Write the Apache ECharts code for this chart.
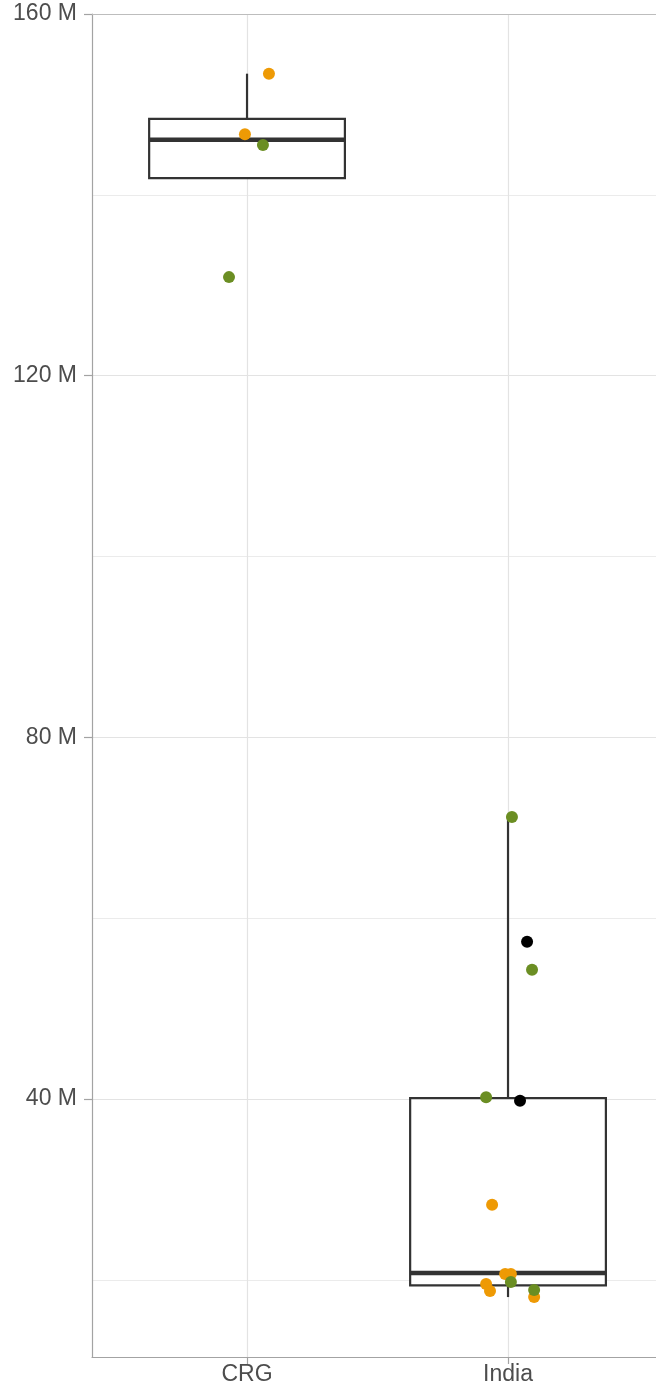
<!DOCTYPE html>
<html>
<head>
<meta charset="utf-8">
<script src="https://cdn.jsdelivr.net/npm/echarts@6/dist/echarts.min.js"></script>
<style>
html,body{margin:0;padding:0;background:#fff;}
#chart{width:656px;height:1394px;}
</style>
</head>
<body>
<div id="chart"></div>
<script>
// Categories and tick labels
var categories = ['CRG', 'India'];
var majorTicks = [40, 80, 120, 160];
var minorTicks = [20, 60, 100, 140];

// Box statistics (millions) per category: lower whisker, Q1, median, Q3, upper whisker
var boxLow    = [141.85, 18.1];
var boxQ1     = [141.85, 19.4];
var boxMedian = [146.1, 20.76];
var boxQ3     = [148.4, 40.1];
var boxHigh   = [153.4, 71.2];

// Jittered points (x = category position incl. jitter, y = millions)
var orangeX = [1.084, 0.992, 1.939, 1.989, 2.011, 1.916, 1.931, 2.100];
var orangeY = [153.4, 146.7, 28.3, 20.65, 20.65, 19.54, 18.77, 18.1];
var greenX  = [1.061, 0.931, 2.015, 2.092, 1.916, 2.011, 2.100];
var greenY  = [145.5, 130.9, 71.2, 54.3, 40.2, 19.76, 18.88];
var blackX  = [2.073, 2.046];
var blackY  = [57.4, 39.8];

function pairs(xs, ys){ return xs.map(function(x,i){ return [x, ys[i]]; }); }

var boxData = categories.map(function(c,i){
  return [i+1, boxLow[i], boxQ1[i], boxMedian[i], boxQ3[i], boxHigh[i]];
});

var chart = echarts.init(document.getElementById('chart'), null, {renderer:'canvas'});
var yMin = 11.47, yMax = 160;
var labelFont = {color:'#4D4D4D', fontSize:23, fontFamily:'Liberation Sans, Arial, sans-serif'};

var option = {
  animation:false,
  backgroundColor:'#ffffff',
  grid:{left:92, right:0, top:14, bottom:37, containLabel:false},
  xAxis:[{
    type:'value', min:0.406, max:2.567,
    axisLine:{show:true, onZero:false, lineStyle:{color:'#A3A3A3', width:1.2}},
    axisTick:{show:true, length:7, customValues:[1,2], lineStyle:{color:'#A3A3A3', width:1.2}},
    axisLabel:Object.assign({customValues:[1,2], margin:6, formatter:function(v){ return categories[Math.round(v)-1] || ''; }}, labelFont),
    splitLine:{show:true, lineStyle:{color:'#E3E3E3', width:1.2}}
  },{
    type:'value', min:0.406, max:2.567, position:'top',
    axisLine:{show:true, onZero:false, lineStyle:{color:'#BDBDBD', width:1.2}},
    axisTick:{show:false}, axisLabel:{show:false}, splitLine:{show:false}
  }],
  yAxis:[{
    type:'value', min:yMin, max:yMax,
    axisLine:{show:true, lineStyle:{color:'#A3A3A3', width:1.2}},
    axisTick:{show:true, length:8, customValues:majorTicks, lineStyle:{color:'#A3A3A3', width:1.2}},
    axisLabel:Object.assign({customValues:majorTicks, margin:15, padding:[3,0,0,0], formatter:function(v){ return v + ' M'; }}, labelFont),
    splitLine:{show:true, lineStyle:{color:'#E3E3E3', width:1.2}}
  },{
    type:'value', min:yMin, max:yMax, position:'left',
    axisLine:{show:false}, axisLabel:{show:false},
    axisTick:{show:false, customValues:minorTicks},
    splitLine:{show:true, lineStyle:{color:'#EBEBEB', width:1}}
  }],
  series:[{
    type:'custom',
    z:2,
    data:boxData,
    encode:{x:0, y:[1,2,3,4,5]},
    renderItem:function(params, api){
      var c = api.value(0);
      var halfW = 0.375;
      var pLow = api.coord([c, api.value(1)]);
      var pQ1 = api.coord([c, api.value(2)]);
      var pMed = api.coord([c, api.value(3)]);
      var pQ3 = api.coord([c, api.value(4)]);
      var pHigh = api.coord([c, api.value(5)]);
      var left = api.coord([c-halfW, api.value(3)])[0];
      var right = api.coord([c+halfW, api.value(3)])[0];
      var st = {stroke:'#333333', lineWidth:2.2, fill:null};
      return {type:'group', children:[
        {type:'line', shape:{x1:pQ3[0], y1:pQ3[1], x2:pHigh[0], y2:pHigh[1]}, style:st},
        {type:'line', shape:{x1:pQ1[0], y1:pQ1[1], x2:pLow[0], y2:pLow[1]}, style:st},
        {type:'rect', shape:{x:left, y:pQ3[1], width:right-left, height:pQ1[1]-pQ3[1]}, style:{stroke:'#333333', lineWidth:2.2, fill:'#ffffff'}},
        {type:'line', shape:{x1:left, y1:pMed[1], x2:right, y2:pMed[1]}, style:{stroke:'#333333', lineWidth:4.4}}
      ]};
    }
  },{
    type:'scatter', z:3, symbol:'circle', symbolSize:12,
    itemStyle:{color:'#EE9A05', opacity:1},
    data:pairs(orangeX, orangeY)
  },{
    type:'scatter', z:4, symbol:'circle', symbolSize:12,
    itemStyle:{color:'#6B8E23', opacity:1},
    data:pairs(greenX, greenY)
  },{
    type:'scatter', z:5, symbol:'circle', symbolSize:12,
    itemStyle:{color:'#000000', opacity:1},
    data:pairs(blackX, blackY)
  }]
};
chart.setOption(option);
</script>
</body>
</html>
